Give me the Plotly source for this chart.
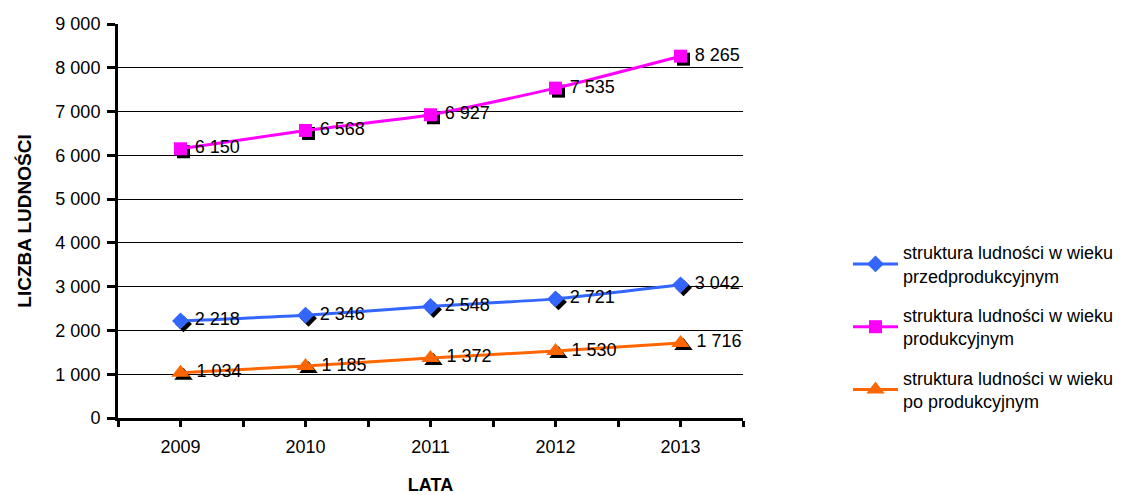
import plotly.graph_objects as go

# Population structure by age group, 2009-2013
years = ["2009", "2010", "2011", "2012", "2013"]
pre_working = [2218, 2346, 2548, 2721, 3042]
working = [6150, 6568, 6927, 7535, 8265]
post_working = [1034, 1185, 1372, 1530, 1716]

series_names = [
    "struktura ludności w wieku<br>przedprodukcyjnym",
    "struktura ludności w wieku<br>produkcyjnym",
    "struktura ludności w wieku<br>po produkcyjnym",
]
series_values = [pre_working, working, post_working]
colors = ["#3366FF", "#FF00FF", "#FF6600"]
symbols = ["diamond", "square", "triangle-up"]
sizes = [13, 13, 16]

FONT = "Liberation Sans, Arial, sans-serif"
xpos = list(range(len(years)))


def fmt(v):
    return " " + f"{v:,}".replace(",", " ")


fig = go.Figure()

# black drop shadows behind the markers (on a slightly shifted pair of axes)
for vals, sym, sz in zip(series_values, symbols, sizes):
    fig.add_trace(go.Scatter(
        x=xpos, y=vals, mode="markers", xaxis="x", yaxis="y",
        marker=dict(symbol=sym, size=sz, color="black"),
        showlegend=False, hoverinfo="skip",
    ))

# the series themselves
for i, (name, vals, col, sym, sz) in enumerate(
        zip(series_names, series_values, colors, symbols, sizes)):
    fig.add_trace(go.Scatter(
        x=xpos, y=vals, name=name, legendgroup=f"g{i}",
        mode="lines+markers+text",
        xaxis="x2", yaxis="y2",
        line=dict(color=col, width=3, shape="spline", smoothing=0.6),
        marker=dict(symbol=sym, size=sz, color=col),
        text=[fmt(v) for v in vals], textposition="middle right",
        textfont=dict(family=FONT, size=18, color="black"),
        cliponaxis=False,
    ))

W, H = 625, 394
shift_px = 3
fig.update_layout(
    width=1128, height=495,
    margin=dict(l=118, r=1128 - 118 - W, t=24, b=495 - 24 - H, autoexpand=False),
    paper_bgcolor="white", plot_bgcolor="white",
    font=dict(family=FONT, size=18, color="black"),
    separators=", ",
    xaxis=dict(range=[-0.5 - shift_px * 5 / W, 4.5 - shift_px * 5 / W],
               visible=False, fixedrange=True),
    yaxis=dict(range=[shift_px * 9000 / H, 9000 + shift_px * 9000 / H],
               visible=False, fixedrange=True),
    xaxis2=dict(
        overlaying="x", anchor="y2", range=[-0.5, 4.5],
        tickvals=xpos, ticktext=years,
        ticks="outside", ticklen=6, tickwidth=3, tickcolor="black",
        minor=dict(tickvals=[-0.5, 0.5, 1.5, 2.5, 3.5, 4.5], ticks="outside",
                   ticklen=6, tickwidth=3, tickcolor="black"),
        showline=True, linewidth=3, linecolor="black",
        showgrid=False, zeroline=False, automargin=False,
        tickfont=dict(size=18), ticklabelstandoff=4,
        title=dict(text="<b>LATA</b>", font=dict(size=18), standoff=34),
    ),
    yaxis2=dict(
        overlaying="y", anchor="x2", range=[0, 9000], dtick=1000,
        tickformat=",d",
        ticks="outside", ticklen=8, tickwidth=3, tickcolor="black",
        showline=True, linewidth=3, linecolor="black",
        showgrid=True, gridcolor="black", gridwidth=1, zeroline=False,
        automargin=False,
        tickfont=dict(size=18), ticklabelstandoff=3,
        title=dict(text="<b>LICZBA LUDNOŚCI</b>", font=dict(size=19), standoff=19),
    ),
    legend=dict(
        x=(848 - 118) / W, xanchor="left",
        y=(418 - 234) / H, yanchor="top",
        font=dict(size=18), tracegroupgap=13, itemwidth=45,
        bgcolor="rgba(0,0,0,0)",
    ),
    showlegend=True,
)

fig.write_html("out.html")
